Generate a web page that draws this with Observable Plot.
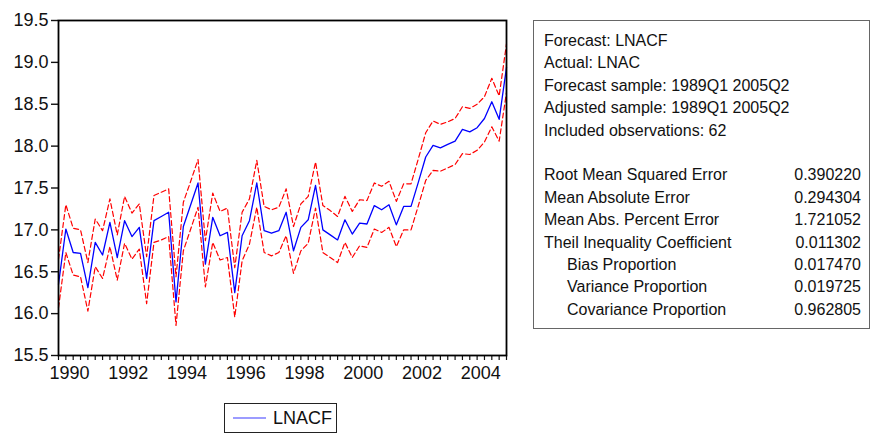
<!DOCTYPE html>
<html>
<head>
<meta charset="utf-8">
<script src="https://cdn.jsdelivr.net/npm/d3@7"></script>
<script src="https://cdn.jsdelivr.net/npm/@observablehq/plot@0.6"></script>
<style>
  body { margin: 0; background: #fff; font-family: "Liberation Sans", Arial, sans-serif; color: #111; }
  #wrap { position: relative; width: 881px; height: 435px; overflow: hidden; }
  #chart { position: absolute; left: 0; top: 0; }
  #stats {
    position: absolute; left: 533px; top: 20px; width: 337px; height: 309px;
    box-sizing: border-box; border: 1px solid #666; padding: 9px 8px 0 10px;
    font-size: 16px; line-height: 22.4px;
  }
  #stats .row { display: flex; justify-content: space-between; white-space: nowrap; }
  #stats .gap { height: 22.4px; }
  #stats .indent { padding-left: 23px; }
  #legend {
    position: absolute; left: 224px; top: 403px; width: 113px; height: 30px;
    box-sizing: border-box; border: 1px solid #222;
    display: flex; align-items: center; font-size: 18px;
  }
  #legend svg { margin-left: 8px; margin-right: 7px; }
</style>
</head>
<body>
<div id="wrap">
  <div id="chart"></div>
  <div id="stats"></div>
  <div id="legend"></div>
</div>
<script>
// Quarterly forecast of LNAC, 1990Q1 to 2005Q2, with its +/- 2 S.E. band
const startYear = 1990;
const forecast = [
  16.35, 17.01, 16.73, 16.72, 16.31, 16.85, 16.70, 17.09, 16.67, 17.11,
  16.92, 17.03, 16.42, 17.11, 17.16, 17.21, 16.14, 17.04, 17.30, 17.56,
  16.59, 17.15, 16.93, 16.97, 16.25, 16.93, 17.11, 17.56, 16.99, 16.96,
  16.99, 17.21, 16.75, 17.03, 17.12, 17.53, 17.00, 16.94, 16.88, 17.12,
  16.95, 17.08, 17.07, 17.29, 17.24, 17.30, 17.06, 17.28, 17.28, 17.57,
  17.87, 18.01, 17.98, 18.02, 18.06, 18.20, 18.17, 18.22, 18.33, 18.53,
  18.32, 18.94
];
const upper = [
  16.65, 17.30, 17.02, 17.00, 16.61, 17.13, 16.99, 17.37, 16.94, 17.40,
  17.20, 17.31, 16.68, 17.41, 17.45, 17.49, 16.44, 17.33, 17.58, 17.84,
  16.87, 17.44, 17.22, 17.26, 16.55, 17.21, 17.37, 17.83, 17.28, 17.24,
  17.27, 17.49, 17.04, 17.31, 17.40, 17.81, 17.29, 17.23, 17.16, 17.40,
  17.22, 17.36, 17.35, 17.56, 17.52, 17.58, 17.34, 17.55, 17.55, 17.85,
  18.16, 18.30, 18.26, 18.29, 18.33, 18.47, 18.45, 18.50, 18.59, 18.81,
  18.60, 19.22
];
const lower = [
  16.07, 16.73, 16.46, 16.44, 16.03, 16.56, 16.42, 16.80, 16.40, 16.84,
  16.65, 16.77, 16.12, 16.85, 16.88, 16.92, 15.86, 16.75, 17.01, 17.27,
  16.32, 16.85, 16.64, 16.67, 15.96, 16.63, 16.83, 17.27, 16.73, 16.69,
  16.73, 16.93, 16.48, 16.75, 16.84, 17.26, 16.73, 16.67, 16.61, 16.85,
  16.67, 16.81, 16.79, 17.01, 16.97, 17.03, 16.80, 17.00, 17.00, 17.29,
  17.59, 17.71, 17.70, 17.74, 17.78, 17.91, 17.90, 17.95, 18.05, 18.23,
  18.06, 18.64
];
const yTicks = [15.5, 16.0, 16.5, 17.0, 17.5, 18.0, 18.5, 19.0, 19.5];
const yearLabels = [1990, 1992, 1994, 1996, 1998, 2000, 2002, 2004];

const statsHeader = [
  "Forecast: LNACF",
  "Actual: LNAC",
  "Forecast sample: 1989Q1 2005Q2",
  "Adjusted sample: 1989Q1 2005Q2",
  "Included observations: 62"
];
const statNames = [
  "Root Mean Squared Error",
  "Mean Absolute Error",
  "Mean Abs. Percent Error",
  "Theil Inequality Coefficient",
  "Bias Proportion",
  "Variance Proportion",
  "Covariance Proportion"
];
const statValues = ["0.390220", "0.294304", "1.721052", "0.011302", "0.017470", "0.019725", "0.962805"];
const statIndented = [false, false, false, false, true, true, true];
const seriesName = "LNACF";

// time in fractional years, one step per quarter
const toTime = i => startYear + i / 4;
const rows = forecast.map((v, i) => ({t: toTime(i), f: v, hi: upper[i], lo: lower[i]}));
const quarterTicks = d3.range(forecast.length).map(toTime);

const chart = Plot.plot({
  width: 881,
  height: 398,
  marginLeft: 58,
  marginTop: 20,
  marginRight: 375,
  marginBottom: 43,
  style: {fontFamily: "'Liberation Sans', Arial, sans-serif", fontSize: "18px", color: "#111", background: "#fff"},
  x: {domain: [toTime(0), toTime(forecast.length - 1)]},
  y: {domain: [15.5, 19.5]},
  marks: [
    Plot.axisY({ticks: yTicks, tickFormat: d3.format(".1f"), tickSize: 7, tickPadding: 3, label: null, strokeWidth: 1.4}),
    Plot.axisX({ticks: quarterTicks, tickFormat: () => "", tickSize: 5, label: null, strokeWidth: 1.2}),
    Plot.axisX({ticks: yearLabels.map(y => y + 0.375), tickFormat: d => String(Math.floor(d)), tickSize: 0, tickPadding: 11, label: null}),
    Plot.lineY(rows, {x: "t", y: "hi", stroke: "#ff0000", strokeWidth: 1.2, strokeDasharray: "5,3"}),
    Plot.lineY(rows, {x: "t", y: "lo", stroke: "#ff0000", strokeWidth: 1.2, strokeDasharray: "5,3"}),
    Plot.lineY(rows, {x: "t", y: "f", stroke: "#0000ff", strokeWidth: 1.3}),
    Plot.frame({stroke: "#000", strokeWidth: 1.8})
  ]
});
document.getElementById("chart").append(chart);

// statistics box
const stats = document.getElementById("stats");
for (const line of statsHeader) {
  const d = document.createElement("div");
  d.className = "row";
  d.textContent = line;
  stats.append(d);
}
const gap = document.createElement("div");
gap.className = "gap";
stats.append(gap);
statNames.forEach((name, k) => {
  const d = document.createElement("div");
  d.className = "row";
  const a = document.createElement("span");
  a.textContent = name;
  if (statIndented[k]) a.className = "indent";
  const b = document.createElement("span");
  b.textContent = statValues[k];
  d.append(a, b);
  stats.append(d);
});

// legend
const legend = document.getElementById("legend");
const sw = d3.create("svg").attr("width", 33).attr("height", 10);
sw.append("line").attr("x1", 0).attr("x2", 33).attr("y1", 5).attr("y2", 5)
  .attr("stroke", "#3a3aff").attr("stroke-width", 1.2);
legend.append(sw.node());
const lab = document.createElement("span");
lab.textContent = seriesName;
legend.append(lab);
</script>
</body>
</html>
